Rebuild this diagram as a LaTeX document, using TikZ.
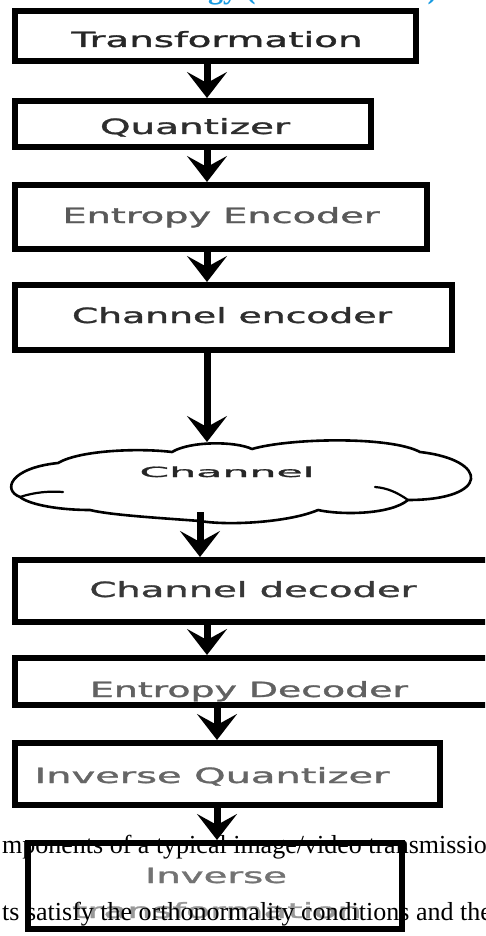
\documentclass[tikz,border=0pt]{standalone}
\usepackage{fontspec}
\setmainfont{Liberation Serif}
\newfontfamily\lblfont[FakeBold=1.2]{DejaVu Sans}
\usetikzlibrary{arrows.meta}
\definecolor{headblue}{RGB}{25,155,225}

% a stage box given by its outer corners (x1,y1) and (x2,y2)
\newcommand\stage[5]{%
  \node[stagebox, minimum width={#4-#2-6}, minimum height={#5-#3-6}]
    (#1) at ({(#2+#4)/2},{(#3+#5)/2}) {};}
% a label stretched to a given width, keeping its height
\newcommand\wide[2]{\resizebox{#1pt}{\height}{#2}}

\begin{document}
\begin{tikzpicture}[x=1pt,y=-1pt,
  stagebox/.style={draw=black, line width=6pt, inner sep=0pt},
  flow/.style={-{Stealth[length=26pt,width=40pt,inset=11pt]}, line width=7pt, black},
  lbl/.style={inner sep=0pt, anchor=base, font=\lblfont\fontsize{21}{24}\selectfont},
  bodytext/.style={inner sep=0pt, anchor=base west, font=\fontsize{26}{30}\selectfont}]
\useasboundingbox (0,0) rectangle (485,936);
\clip (0,0) rectangle (485,936);

% heading descenders at the very top
\node[inner sep=0pt, anchor=base west, text=headblue,
      font=\bfseries\fontsize{30}{32}\selectfont] (head) at (208,-1) {gy (\hspace{172pt})};

% stage boxes
\stage{b1}{12}{8}{419}{64}
\stage{b2}{12}{98}{374}{150}
\stage{b3}{12}{182}{430}{252}
\stage{b4}{12}{282}{455}{353}
\stage{b5}{12}{557}{492}{625}
\stage{b6}{12}{655}{492}{708}
\stage{b7}{12}{740}{443}{808}
\stage{b8}{25}{840}{405}{932}

% labels
\node[lbl, text=black!85] (t1) at (217,47)  {\wide{291}{Transformation}};
\node[lbl, text=black!82] (t2) at (195,134) {\wide{190}{Quantizer}};
\node[lbl, text=black!65] (t3) at (221,223) {\wide{317}{Entropy Encoder}};
\node[lbl, text=black!82] (t4) at (232,323) {\wide{320}{Channel encoder}};
\node[lbl, text=black!78] (t5) at (253,597) {\wide{327}{Channel decoder}};
\node[lbl, text=black!62] (t6) at (249,697) {\wide{318}{Entropy Decoder}};
\node[lbl, text=black!60] (t7) at (212,783) {\wide{355}{Inverse Quantizer}};
\node[lbl, text=black!55] (t8) at (216,883) {\wide{142}{Inverse}};
\node[lbl, text=black!40] (t9) at (217,918) {\wide{290}{transformation}};

% the channel cloud
\draw[line width=2.6pt, black, line join=round]
  (20,497) .. controls (2,490) and (10,468) .. (58,463)
  .. controls (80,450) and (140,448) .. (172,452)
  .. controls (190,441) and (235,441) .. (252,449)
  .. controls (290,438) and (390,436) .. (420,452)
  .. controls (490,460) and (490,500) .. (408,500)
  .. controls (390,515) and (340,515) .. (318,510)
  .. controls (290,522) and (230,526) .. (200,521)
  .. controls (160,518) and (110,515) .. (90,510)
  .. controls (60,510) and (30,505) .. (20,497) -- cycle;
\draw[line width=2.2pt, black, line cap=round]
  (20,497) .. controls (35,492) and (50,491) .. (63,492);
\draw[line width=2.2pt, black, line cap=round]
  (408,500) .. controls (398,493) and (388,488) .. (375,487);
\node[inner sep=0pt, anchor=base, text=black!85,
      font=\lblfont\fontsize{14}{16}\selectfont] (cloud) at (227,477) {\wide{175}{Channel}};

% arrow columns
\coordinate (xa) at (207,0);
\coordinate (xb) at (200,0);
\coordinate (xc) at (217,0);
\coordinate (cloudtop) at (207,442);
\coordinate (cloudbot) at (200,512);

\draw[flow] (b1.south -| xa) -- (b2.north -| xa);
\draw[flow] (b2.south -| xa) -- (b3.north -| xa);
\draw[flow] (b3.south -| xa) -- (b4.north -| xa);
\draw[flow] (b4.south -| xa) -- (cloudtop);
\draw[flow] (cloudbot) -- (b5.north -| xb);
\draw[flow] (b5.south -| xa) -- (b6.north -| xa);
\draw[flow] (b6.south -| xc) -- (b7.north -| xc);
\draw[flow] (b7.south -| xc) -- (b8.north -| xc);

% surrounding body text
\node[bodytext] (line1) at (2,853) {mponents of a typical image/video transmission};
\node[bodytext] (line2) at (2,920) {ts satisfy the orthonormality conditions and the};
\end{tikzpicture}
\end{document}
